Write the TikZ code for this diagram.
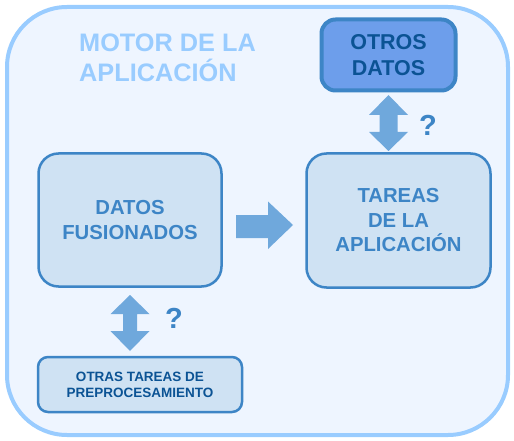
\documentclass[tikz,border=0pt]{standalone}
\usepackage{fontspec}
\setmainfont{Liberation Sans}
\definecolor{outerc}{HTML}{99CCFF}
\definecolor{bgc}{HTML}{EEF5FF}
\definecolor{boxfill}{HTML}{CFE2F3}
\definecolor{boxline}{HTML}{3D85C6}
\definecolor{darkb}{HTML}{0B5394}
\definecolor{otrosfill}{HTML}{6D9EEB}
\definecolor{arrowc}{HTML}{6FA8DC}
\begin{document}
\begin{tikzpicture}[x=1pt,y=-1pt,
  box/.style={draw=boxline, fill=boxfill, line width=2.5pt, rounded corners=20pt},
  txt/.style={font=\bfseries\fontsize{20.3}{24.5}\selectfont, text=boxline, align=center},
  qmark/.style={font=\bfseries\fontsize{29}{29}\selectfont, text=boxline},
  arr/.style={fill=arrowc}]
\useasboundingbox (0,0) rectangle (514,441);
% outer
\draw[draw=outerc, fill=bgc, line width=4pt, rounded corners=60pt] (7,7) rectangle (508,435);
% title
\node[anchor=north west, font=\bfseries\fontsize{25.3}{30}\selectfont, text=outerc, align=left, inner sep=0pt] (title) at (79,34) {MOTOR DE LA\\APLICACIÓN};
% otros datos
\node[draw=boxline, fill=otrosfill, line width=4pt, rounded corners=14pt, minimum width=134pt, minimum height=71pt, font=\bfseries\fontsize{21.5}{26}\selectfont, text=darkb, align=center] (otros) at (388.5,55) {OTROS\\DATOS};
% datos fusionados
\node[box, minimum width=183pt, minimum height=133pt, txt] (fus) at (130,220) {DATOS\\FUSIONADOS};
% tareas
\node[box, minimum width=184pt, minimum height=134pt, txt] (tareas) at (398.5,220.5) {TAREAS\\DE LA\\APLICACIÓN};
% otras tareas
\node[box, rounded corners=10pt, minimum width=204pt, minimum height=55pt, font=\bfseries\fontsize{13.5}{16}\selectfont, text=darkb, align=center] (otras) at (140,384.5) {OTRAS TAREAS DE\\PREPROCESAMIENTO};
% right arrow
\fill[arr] (236,215) -- (268,215) -- (268,201.5) -- (293,225) -- (268,249) -- (268,238) -- (236,238) -- cycle;
% top double arrow
\fill[arr] (388.5,95) -- (408,115) -- (397.5,115) -- (397.5,132) -- (408,132) -- (388.5,151) -- (369,132) -- (379.5,132) -- (379.5,115) -- (369,115) -- cycle;
\node[qmark] (q1) at (428,125) {?};
% bottom double arrow
\fill[arr] (130,295) -- (149.5,314) -- (137,314) -- (137,331) -- (149.5,331) -- (130,351) -- (110.5,331) -- (123,331) -- (123,314) -- (110.5,314) -- cycle;
\node[qmark] (q2) at (174,318.5) {?};
\end{tikzpicture}
\end{document}
